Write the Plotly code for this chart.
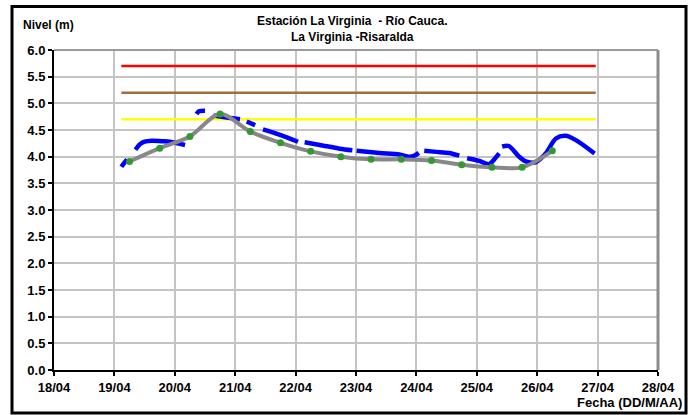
import plotly.graph_objects as go

# ---- data ----
tick_days = [18, 19, 20, 21, 22, 23, 24, 25, 26, 27, 28]
tick_labels = ["18/04", "19/04", "20/04", "21/04", "22/04", "23/04",
               "24/04", "25/04", "26/04", "27/04", "28/04"]

# observed level (blue), day of April (decimal); None = gap in record
nivel_dias = [19.115, 19.16, 19.21, None,
              19.35, 19.42, 19.50, 19.62, 19.78, 19.92, 20.05, 20.17, None,
              20.36, 20.40, 20.50, None,
              20.64, 20.83, 21.08, None,
              21.19, 21.33, None,
              21.46, 21.74, 22.04, None,
              22.15, 22.40, 22.73, 22.94, None,
              23.01, 23.39, 23.72, 23.88, 23.97, 24.04, None,
              24.13, 24.33, 24.54, 24.71, None,
              24.84, 25.04, 25.20, 25.29, 25.37, None,
              25.42, 25.53, 25.70, 25.81, 25.98, 26.14, 26.31, 26.47, 26.64, 26.95]
nivel_valores = [3.81, 3.88, 3.95, None,
                 4.13, 4.23, 4.28, 4.30, 4.29, 4.28, 4.25, 4.22, None,
                 4.80, 4.85, 4.86, None,
                 4.77, 4.74, 4.70, None,
                 4.66, 4.59, None,
                 4.51, 4.41, 4.28, None,
                 4.27, 4.22, 4.15, 4.12, None,
                 4.11, 4.07, 4.04, 4.00, 4.02, 4.07, None,
                 4.11, 4.09, 4.07, 4.02, None,
                 3.97, 3.92, 3.86, 3.95, 4.06, None,
                 4.19, 4.20, 4.00, 3.91, 3.90, 4.06, 4.34, 4.39, 4.31, 4.06]

# manual readings (grey line with green markers)
lectura_dias = [19.25, 19.75, 20.25, 20.75, 21.25, 21.75, 22.25, 22.75,
                23.25, 23.75, 24.25, 24.75, 25.25, 25.75, 26.25]
lectura_valores = [3.91, 4.16, 4.38, 4.80, 4.47, 4.26, 4.10, 4.00,
                   3.95, 3.95, 3.93, 3.85, 3.80, 3.80, 4.11]

# alert thresholds
umbral_dias = [19.115, 26.97]
umbral_rojo = 5.70
umbral_naranja = 5.20
umbral_amarillo = 4.70

FONT = "Liberation Sans, Arial, sans-serif"

fig = go.Figure()

for val, col in [(umbral_rojo, "#FF0000"), (umbral_naranja, "#A0703A"),
                 (umbral_amarillo, "#FFFF00")]:
    fig.add_trace(go.Scatter(x=umbral_dias, y=[val, val], mode="lines",
                             line=dict(color=col, width=2.5),
                             hoverinfo="skip", showlegend=False))

fig.add_trace(go.Scatter(x=nivel_dias, y=nivel_valores, mode="lines",
                         line=dict(color="#0000FF", width=4.5, shape="spline",
                                   smoothing=0.8),
                         connectgaps=False, showlegend=False))

fig.add_trace(go.Scatter(x=lectura_dias, y=lectura_valores, mode="lines+markers",
                         line=dict(color="#888888", width=4, shape="spline",
                                   smoothing=0.9),
                         marker=dict(color="#339933", size=7),
                         showlegend=False))

L, R, T, B = 54, 32, 49.5, 45
W, H = 690, 415
pw, ph = W - L - R, H - T - B


def px(xp):
    return (xp - L) / pw


def py(yp):
    return (H - B - yp) / ph


fig.update_layout(
    width=W, height=H,
    margin=dict(l=L, r=R, t=T, b=B),
    paper_bgcolor="white", plot_bgcolor="white",
    font=dict(family=FONT, size=12, color="black", weight="bold"),
    xaxis=dict(range=[18, 28], tickvals=tick_days, ticktext=tick_labels,
               showgrid=True, gridcolor="#C4C4C4", gridwidth=2,
               zeroline=False, showline=True, linecolor="black", linewidth=2,
               ticks="outside", ticklen=4, tickwidth=2, tickcolor="black",
               tickfont=dict(family=FONT, size=13, weight="bold")),
    yaxis=dict(range=[0, 6], dtick=0.5, tickformat=".1f",
               showgrid=True, gridcolor="#C4C4C4", gridwidth=2,
               zeroline=False, showline=True, linecolor="black", linewidth=2,
               ticks="outside", ticklen=4, tickwidth=2, tickcolor="black",
               tickfont=dict(family=FONT, size=13, weight="bold")),
    shapes=[
        dict(type="line", xref="paper", yref="paper", x0=1, x1=1, y0=0, y1=1,
             line=dict(color="#8C8C8C", width=3)),
        dict(type="line", xref="paper", yref="paper", x0=0, x1=1, y0=1, y1=1,
             line=dict(color="#9A9A9A", width=2)),
        dict(type="rect", xref="paper", yref="paper",
             x0=px(12), x1=px(686), y0=py(413), y1=py(6),
             line=dict(color="black", width=3)),
    ],
    annotations=[
        dict(text="Estación La Virginia  - Río Cauca.<br>La Virginia -Risaralda",
             xref="paper", yref="paper", x=px(352), y=py(11),
             xanchor="center", yanchor="top", showarrow=False,
             font=dict(family=FONT, size=12, weight="bold")),
        dict(text="Nivel (m)", xref="paper", yref="paper", x=px(21), y=py(24),
             xanchor="left", yanchor="middle", showarrow=False,
             font=dict(family=FONT, size=12, weight="bold")),
        dict(text="Fecha (DD/M/AA)", xref="paper", yref="paper", x=px(684),
             y=py(403), xanchor="right", yanchor="middle", showarrow=False,
             font=dict(family=FONT, size=13, weight="bold")),
    ],
)

fig.write_html(
    "out.html",
    config={"displayModeBar": False},
    post_script="document.body.style.margin='0';"
                "document.body.style.overflow='hidden';",
)
